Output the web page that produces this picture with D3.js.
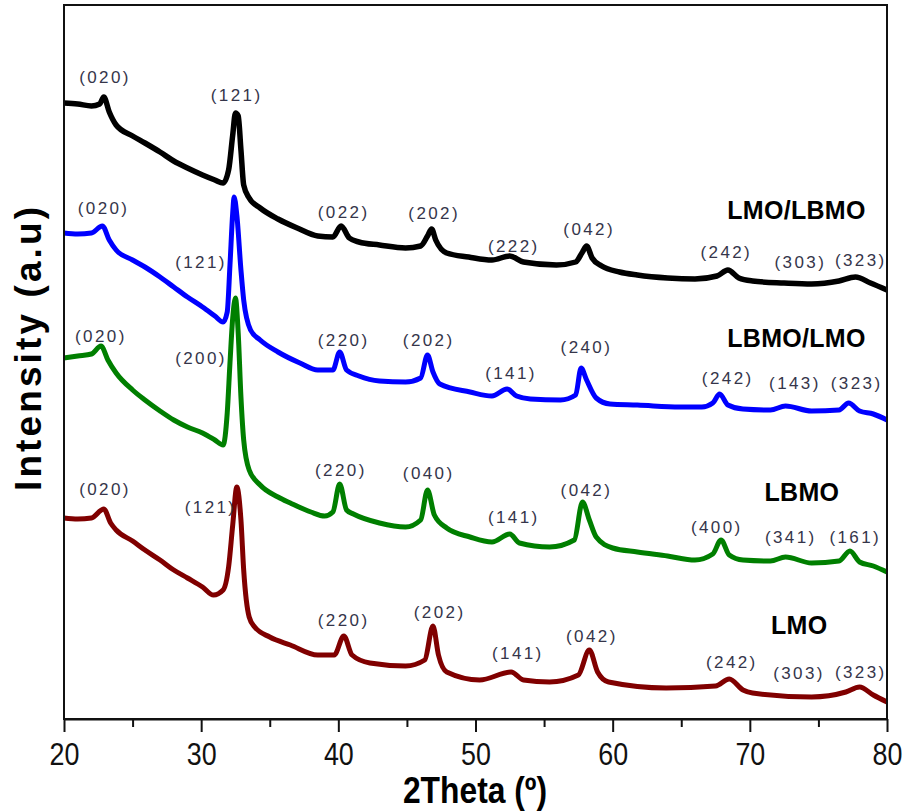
<!DOCTYPE html>
<html>
<head>
<meta charset="utf-8">
<script src="https://cdn.jsdelivr.net/npm/d3@7"></script>
<style>
  html, body { margin: 0; padding: 0; background: #fff; }
  svg { display: block; }
</style>
</head>
<body>
<svg id="chart" width="906" height="812"></svg>
<script>
// ---------------- DATA ----------------
const xTicks = [20, 30, 40, 50, 60, 70, 80];
const xMinorTicks = [25, 35, 45, 55, 65, 75];
const xTitle = "2Theta (º)";
const yTitle = "Intensity (a.u)";

const sampleNames = ["LMO/LBMO", "LBMO/LMO", "LBMO", "LMO"];
const sampleColors = ["#000000", "#0000ff", "#007f00", "#800000"];

// LMO/LBMO (black)
const thetaLMOLBMO = [20.0,21.0,22.0,22.6,22.9,23.3,23.8,25.0,25.9,27.0,28.0,29.0,30.1,31.0,31.6,32.0,32.3,32.5,32.7,32.9,33.1,33.5,34.3,35.6,37.0,38.5,39.6,40.2,40.8,41.5,43.0,44.9,46.0,46.5,46.8,47.1,47.9,49.5,51.2,52.5,53.5,55.9,57.3,57.8,58.1,58.5,59.2,60.5,61.8,64.0,66.0,67.6,68.4,69.2,70.2,72.5,74.5,76.5,77.7,78.8,80.0];
const intLMOLBMO = [616,615,613,615,622,607,594,583,576,567,558,551,544,539,536,549,584,606,603,569,534,521,511,500,491,483,482,493,481,477,474,471,473,483,490,479,466,462,459,463,457,454,457,467,473,461,453,447,444,441,440,443,449,441,438,436,435,438,442,436,429];

// LBMO/LMO (blue)
const thetaLBMOLMO = [20.0,21.0,22.0,22.8,23.3,23.8,25.0,25.9,27.0,28.0,29.0,30.1,31.0,31.6,31.9,32.1,32.3,32.4,32.6,32.9,33.1,33.6,34.3,35.6,37.2,38.5,39.6,40.1,40.6,41.5,43.0,44.9,46.0,46.5,46.9,47.4,49.6,51.2,52.3,53.0,54.0,56.2,57.3,57.7,58.1,58.8,59.8,61.8,64.9,66.5,67.3,67.8,68.4,69.5,71.5,72.6,74.5,76.5,77.2,78.0,79.0,80.0];
const intLBMOLMO = [486,485,486,493,479,469,459,452,442,432,422,412,403,397,407,454,506,522,504,449,419,389,379,367,356,349,349,367,349,343,338,337,341,364,347,335,327,323,330,323,320,319,324,351,339,321,315,314,312,312,316,325,314,310,309,313,308,309,316,308,305,299];

// LBMO (green)
const thetaLBMO = [20.0,21.0,22.0,22.7,23.2,23.8,25.0,25.9,27.0,28.0,29.0,30.1,31.0,31.6,31.9,32.1,32.3,32.5,32.7,32.9,33.1,33.5,34.3,35.6,36.5,38.0,39.0,39.6,40.1,40.6,41.1,43.0,44.9,46.0,46.5,47.0,47.9,49.6,51.2,52.5,53.2,55.4,57.2,57.8,58.3,58.8,60.0,61.8,64.0,66.0,67.3,67.9,68.5,69.5,71.5,72.6,74.5,76.5,77.3,78.0,79.0,80.0];
const intLBMO = [361,363,365,373,359,346,329,319,308,299,292,286,279,274,306,356,401,421,386,322,279,249,234,222,216,207,203,207,235,209,205,196,192,199,229,204,191,182,177,185,176,172,179,217,199,182,171,167,163,159,165,179,164,159,158,162,156,158,168,157,153,147];

// LMO (dark red)
const thetaLMO = [20.0,21.0,22.0,22.9,23.4,23.8,25.0,25.9,27.0,28.0,29.0,30.1,30.9,31.6,32.0,32.3,32.6,32.9,33.1,33.5,33.9,35.0,36.5,38.5,39.7,40.4,41.0,42.3,44.9,46.3,46.9,47.3,47.9,50.3,52.6,53.5,55.4,57.5,58.3,58.9,59.7,63.9,67.5,68.5,69.5,70.2,74.5,77.0,78.0,79.0,80.0];
const intLMO = [201,200,201,210,196,189,178,169,159,149,141,132,124,129,152,194,232,199,149,102,92,82,74,64,64,83,64,56,53,59,93,64,47,39,47,39,37,44,69,47,37,31,33,40,29,26,22,27,32,24,17];

// peak (hkl) annotations: text, 2theta, intensity level
const hklLMOLBMO = ["(020)","(121)","(022)","(202)","(222)","(042)","(242)","(303)","(323)"];
const hklXLMOLBMO = [22.9,32.5,40.3,46.9,52.7,58.2,68.2,73.6,78.0];
const hklYLMOLBMO = [642,624,507,506,473,490,467,457,459];

const hklLBMOLMO = ["(020)","(121)","(220)","(202)","(141)","(240)","(242)","(143)","(323)"];
const hklXLBMOLMO = [22.8,29.9,40.3,46.5,52.5,58.0,68.3,73.2,77.7];
const hklYLBMOLMO = [511,457,379,379,346,372,341,336,336];

const hklLBMO = ["(020)","(200)","(220)","(040)","(141)","(042)","(400)","(341)","(161)"];
const hklXLBMO = [22.6,29.9,40.1,46.5,52.7,58.0,67.5,72.9,77.6];
const hklYLBMO = [383,361,249,246,202,229,192,182,182];

const hklLMO = ["(020)","(121)","(220)","(202)","(141)","(042)","(242)","(303)","(323)"];
const hklXLMO = [22.9,30.6,40.3,47.3,53.0,58.4,68.6,73.5,78.0];
const hklYLMO = [230,212,99,107,66,83,57,46,47];

// sample name annotation anchors (2theta, intensity level)
const nameX = [73.4, 73.4, 73.8, 73.6];
const nameY = [509, 381, 227, 94];

// ---------------- CHART ----------------
const W = 906, H = 812;
const margin = {left: 64, right: 19, top: 5, bottom: 93};
const iw = W - margin.left - margin.right;   // 823
const ih = H - margin.top - margin.bottom;   // 714

const svg = d3.select("#chart");
svg.append("rect").attr("width", W).attr("height", H).attr("fill", "#fff");

const x = d3.scaleLinear().domain([20, 80]).range([margin.left, margin.left + iw]);
const y = d3.scaleLinear().domain([0, 714]).range([margin.top + ih, margin.top]);

const series = [
  {theta: thetaLMOLBMO, inten: intLMOLBMO, hkl: hklLMOLBMO, hx: hklXLMOLBMO, hy: hklYLMOLBMO, w: 5.5},
  {theta: thetaLBMOLMO, inten: intLBMOLMO, hkl: hklLBMOLMO, hx: hklXLBMOLMO, hy: hklYLBMOLMO, w: 5},
  {theta: thetaLBMO, inten: intLBMO, hkl: hklLBMO, hx: hklXLBMO, hy: hklYLBMO, w: 5},
  {theta: thetaLMO, inten: intLMO, hkl: hklLMO, hx: hklXLMO, hy: hklYLMO, w: 5}
];

const line = d3.line()
  .x(d => x(d[0]))
  .y(d => y(d[1]))
  .curve(d3.curveMonotoneX);

const plot = svg.append("g");
[3, 2, 1, 0].forEach(i => {
  const s = series[i];
  const pts = s.theta.map((t, k) => [t, s.inten[k]]);
  plot.append("path")
    .datum(pts)
    .attr("fill", "none")
    .attr("stroke", sampleColors[i])
    .attr("stroke-width", s.w)
    .attr("stroke-linejoin", "miter")
    .attr("stroke-miterlimit", 3)
    .attr("stroke-linecap", "butt")
    .attr("d", line);
});

// hkl labels
series.forEach((s, i) => {
  plot.selectAll(null)
    .data(s.hkl.map((t, k) => ({t, x: s.hx[k], y: s.hy[k]})))
    .enter().append("text")
    .attr("x", d => x(d.x) + 1.2)
    .attr("y", d => y(d.y))
    .attr("text-anchor", "middle")
    .attr("dominant-baseline", "central")
    .attr("font-family", "'Liberation Sans', Arial, sans-serif")
    .attr("font-size", 17)
    .attr("letter-spacing", 2.4)
    .attr("fill", "#35354a")
    .text(d => d.t);
});

// sample names
sampleNames.forEach((n, i) => {
  svg.append("text")
    .attr("x", x(nameX[i]))
    .attr("y", y(nameY[i]))
    .attr("text-anchor", "middle")
    .attr("dominant-baseline", "central")
    .attr("font-family", "'Liberation Sans', Arial, sans-serif")
    .attr("font-weight", "bold")
    .attr("font-size", 25)
    .attr("letter-spacing", 0.3)
    .attr("fill", "#000")
    .text(n);
});

// frame
svg.append("rect")
  .attr("x", margin.left).attr("y", margin.top)
  .attr("width", iw).attr("height", ih)
  .attr("fill", "none").attr("stroke", "#111").attr("stroke-width", 2);

// x axis: major and minor ticks
const axisG = svg.append("g").attr("transform", `translate(0,${margin.top + ih})`);
axisG.call(d3.axisBottom(x).tickValues(xTicks).tickSize(13).tickSizeOuter(0).tickPadding(10)
  .tickFormat(d3.format("d")));
const minorG = svg.append("g").attr("transform", `translate(0,${margin.top + ih})`);
minorG.call(d3.axisBottom(x).tickValues(xMinorTicks).tickSize(8).tickSizeOuter(0).tickFormat(""));
minorG.select(".domain").remove();
svg.selectAll(".tick line").attr("stroke", "#111").attr("stroke-width", 2);
axisG.select(".domain").attr("stroke", "#111").attr("stroke-width", 2);
axisG.selectAll(".tick text")
  .attr("font-family", "'Liberation Sans', Arial, sans-serif")
  .attr("font-size", 32)
  .attr("transform", "scale(0.84,1)")
  .attr("fill", "#111");

// axis titles
svg.append("text")
  .attr("transform", "translate(475,803) scale(0.86,1)")
  .attr("text-anchor", "middle")
  .attr("font-family", "'Liberation Sans', Arial, sans-serif")
  .attr("font-weight", "bold")
  .attr("font-size", 37)
  .attr("fill", "#000")
  .text(xTitle);

svg.append("text")
  .attr("transform", "translate(41,349) rotate(-90)")
  .attr("text-anchor", "middle")
  .attr("font-family", "'Liberation Sans', Arial, sans-serif")
  .attr("font-weight", "bold")
  .attr("font-size", 37)
  .attr("textLength", 284)
  .attr("lengthAdjust", "spacing")
  .attr("fill", "#000")
  .text(yTitle);
</script>
</body>
</html>
